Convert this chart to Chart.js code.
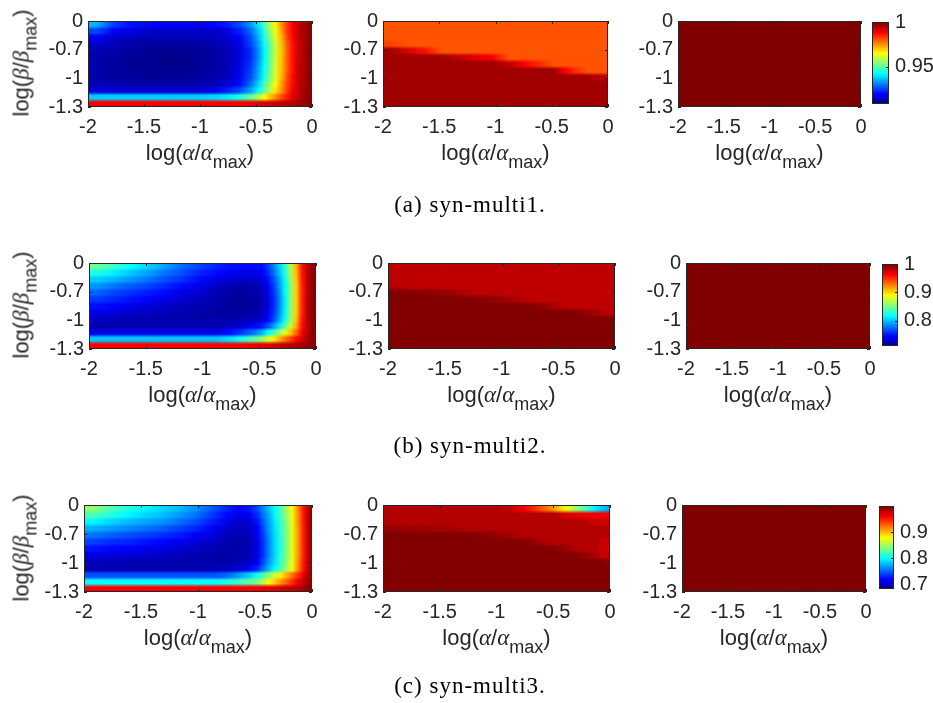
<!DOCTYPE html>
<html>
<head>
<meta charset="utf-8">
<title>syn-multi heatmaps</title>
<script src="https://cdn.jsdelivr.net/npm/chart.js"></script>
<style>
  html, body { margin:0; padding:0; background:#ffffff; }
  #fig { position:relative; width:933px; height:703px; overflow:hidden; background:#fff; }
  #fig canvas { position:absolute; }
  .axt { position:absolute; font-family:"Liberation Sans", Arial, sans-serif; font-size:22px; line-height:26px; color:#262626; white-space:nowrap; }
  .axt .g { font-family:"Liberation Serif","DejaVu Serif",serif; font-style:italic; font-size:23px; }
  .axt .s { font-size:18px; position:relative; top:8px; }
  .cap { position:absolute; font-family:"Liberation Serif","DejaVu Serif",serif; font-size:23px; line-height:28px; color:#000; white-space:nowrap; letter-spacing:1px; transform:translateX(-50%); }
</style>
</head>
<body>
<div id="fig"></div>
<script>
// ---------------- data ----------------
const xEdges = [-2,-1.85,-1.7,-1.55,-1.4,-1.25,-1.1,-0.95,-0.8,-0.7,-0.6,-0.5,-0.45,-0.4,-0.35,-0.3,-0.25,-0.2,-0.15,-0.1,-0.05,0];
const xTicks = [-2,-1.5,-1,-0.5,0];
const xTickLabels = ['-2','-1.5','-1','-0.5','0'];
const yTickLabels = ['-1.3','-1','-0.7','0'];   // bottom -> top
const rangeA = [0.908, 1.0];
const rangeB = [0.711, 1.0];
const rangeC = [0.682, 1.0];
const cbTicksA = [0.95, 1];     const cbLabelsA = ['0.95','1'];
const cbTicksB = [0.8, 0.9, 1]; const cbLabelsB = ['0.8','0.9','1'];
const cbTicksC = [0.7, 0.8, 0.9]; const cbLabelsC = ['0.7','0.8','0.9'];
const captions = ['(a) syn-multi1.','(b) syn-multi2.','(c) syn-multi3.'];

// matrices: rows listed top (0) -> bottom (-1.3), columns follow xEdges
const heatA1 = [
[0.936,0.925,0.921,0.920,0.919,0.919,0.919,0.920,0.922,0.926,0.933,0.941,0.949,0.959,0.967,0.975,0.983,0.989,0.994,0.996,0.999],
[0.926,0.919,0.917,0.915,0.915,0.915,0.915,0.915,0.917,0.922,0.929,0.938,0.947,0.956,0.965,0.974,0.983,0.989,0.994,0.996,0.999],
[0.919,0.915,0.914,0.913,0.913,0.913,0.913,0.914,0.915,0.919,0.926,0.936,0.945,0.954,0.963,0.972,0.982,0.988,0.993,0.996,0.999],
[0.915,0.913,0.912,0.911,0.911,0.911,0.911,0.912,0.914,0.917,0.925,0.934,0.943,0.952,0.961,0.971,0.980,0.987,0.993,0.996,0.999],
[0.913,0.912,0.911,0.910,0.910,0.910,0.910,0.911,0.913,0.916,0.923,0.933,0.942,0.951,0.961,0.970,0.980,0.987,0.993,0.996,0.999],
[0.912,0.911,0.910,0.910,0.909,0.909,0.910,0.911,0.913,0.916,0.923,0.933,0.942,0.952,0.961,0.971,0.980,0.987,0.993,0.996,0.999],
[0.912,0.911,0.910,0.910,0.909,0.909,0.910,0.911,0.913,0.917,0.924,0.934,0.943,0.952,0.962,0.971,0.980,0.987,0.993,0.996,0.999],
[0.912,0.911,0.910,0.910,0.910,0.910,0.910,0.911,0.913,0.917,0.925,0.935,0.944,0.953,0.962,0.971,0.980,0.987,0.993,0.996,0.999],
[0.912,0.911,0.911,0.910,0.910,0.910,0.911,0.912,0.914,0.918,0.926,0.936,0.945,0.954,0.963,0.972,0.981,0.988,0.993,0.996,0.999],
[0.913,0.912,0.912,0.911,0.911,0.911,0.912,0.913,0.915,0.920,0.929,0.939,0.948,0.957,0.965,0.974,0.982,0.988,0.993,0.996,0.999],
[0.917,0.916,0.916,0.916,0.916,0.916,0.916,0.917,0.922,0.926,0.934,0.943,0.951,0.960,0.968,0.975,0.983,0.989,0.994,0.996,0.999],
[0.938,0.938,0.938,0.938,0.938,0.938,0.938,0.939,0.941,0.945,0.951,0.959,0.965,0.971,0.976,0.982,0.986,0.991,0.994,0.997,0.999],
[0.989,0.989,0.989,0.989,0.989,0.989,0.989,0.989,0.989,0.989,0.990,0.991,0.992,0.993,0.994,0.994,0.995,0.996,0.997,0.998,0.999]
];
const heatA2 = [
[0.981,0.981,0.981,0.981,0.981,0.981,0.981,0.981,0.981,0.981,0.981,0.981,0.981,0.981,0.981,0.981,0.981,0.981,0.981,0.981,0.981],
[0.981,0.981,0.981,0.981,0.981,0.981,0.981,0.981,0.981,0.981,0.981,0.981,0.981,0.981,0.981,0.981,0.981,0.981,0.981,0.981,0.981],
[0.981,0.981,0.981,0.981,0.981,0.981,0.981,0.981,0.981,0.981,0.981,0.981,0.981,0.981,0.981,0.981,0.981,0.981,0.981,0.981,0.981],
[0.983,0.981,0.981,0.981,0.981,0.981,0.981,0.981,0.981,0.981,0.981,0.981,0.981,0.981,0.981,0.981,0.981,0.981,0.981,0.981,0.981],
[0.997,0.992,0.987,0.981,0.981,0.981,0.981,0.981,0.981,0.981,0.981,0.981,0.981,0.981,0.981,0.981,0.981,0.981,0.981,0.981,0.981],
[0.997,0.997,0.997,0.997,0.994,0.991,0.989,0.981,0.981,0.981,0.981,0.981,0.981,0.981,0.981,0.981,0.981,0.981,0.981,0.981,0.981],
[0.997,0.997,0.997,0.997,0.997,0.997,0.997,0.994,0.989,0.986,0.983,0.981,0.981,0.981,0.981,0.981,0.981,0.981,0.981,0.981,0.981],
[0.997,0.997,0.997,0.997,0.997,0.997,0.997,0.997,0.997,0.997,0.997,0.997,0.992,0.989,0.986,0.984,0.983,0.981,0.981,0.981,0.981],
[0.997,0.997,0.997,0.997,0.997,0.997,0.997,0.997,0.997,0.997,0.997,0.997,0.997,0.997,0.997,0.997,0.997,0.997,0.995,0.995,0.994],
[0.997,0.997,0.997,0.997,0.997,0.997,0.997,0.997,0.997,0.997,0.997,0.997,0.997,0.997,0.997,0.997,0.997,0.997,0.997,0.997,0.997],
[0.997,0.997,0.997,0.997,0.997,0.997,0.997,0.997,0.997,0.997,0.997,0.997,0.997,0.997,0.997,0.997,0.997,0.997,0.997,0.997,0.997],
[0.997,0.997,0.997,0.997,0.997,0.997,0.997,0.997,0.997,0.997,0.997,0.997,0.997,0.997,0.997,0.997,0.997,0.997,0.997,0.997,0.997],
[0.997,0.997,0.997,0.997,0.997,0.997,0.997,0.997,0.997,0.997,0.997,0.997,0.997,0.997,0.997,0.997,0.997,0.997,0.997,0.997,0.997]
];
const heatA3 = [
[1,1,1,1,1,1,1,1,1,1,1,1,1,1,1,1,1,1,1,1,1],
[1,1,1,1,1,1,1,1,1,1,1,1,1,1,1,1,1,1,1,1,1],
[1,1,1,1,1,1,1,1,1,1,1,1,1,1,1,1,1,1,1,1,1],
[1,1,1,1,1,1,1,1,1,1,1,1,1,1,1,1,1,1,1,1,1],
[1,1,1,1,1,1,1,1,1,1,1,1,1,1,1,1,1,1,1,1,1],
[1,1,1,1,1,1,1,1,1,1,1,1,1,1,1,1,1,1,1,1,1],
[1,1,1,1,1,1,1,1,1,1,1,1,1,1,1,1,1,1,1,1,1],
[1,1,1,1,1,1,1,1,1,1,1,1,1,1,1,1,1,1,1,1,1],
[1,1,1,1,1,1,1,1,1,1,1,1,1,1,1,1,1,1,1,1,1],
[1,1,1,1,1,1,1,1,1,1,1,1,1,1,1,1,1,1,1,1,1],
[1,1,1,1,1,1,1,1,1,1,1,1,1,1,1,1,1,1,1,1,1],
[1,1,1,1,1,1,1,1,1,1,1,1,1,1,1,1,1,1,1,1,1],
[1,1,1,1,1,1,1,1,1,1,1,1,1,1,1,1,1,1,1,1,1]
];
const heatB1 = [
[0.850,0.835,0.821,0.806,0.792,0.777,0.766,0.757,0.751,0.749,0.749,0.751,0.763,0.783,0.806,0.830,0.870,0.913,0.960,0.983,0.997],
[0.827,0.815,0.803,0.792,0.780,0.769,0.757,0.749,0.743,0.740,0.740,0.746,0.757,0.777,0.801,0.827,0.867,0.910,0.957,0.983,0.997],
[0.806,0.798,0.789,0.780,0.769,0.760,0.749,0.740,0.734,0.731,0.731,0.737,0.749,0.769,0.792,0.821,0.861,0.908,0.957,0.983,0.997],
[0.789,0.780,0.772,0.766,0.757,0.749,0.740,0.731,0.725,0.723,0.725,0.731,0.743,0.763,0.789,0.818,0.858,0.905,0.954,0.983,0.997],
[0.775,0.766,0.760,0.754,0.749,0.740,0.734,0.725,0.720,0.720,0.723,0.728,0.740,0.760,0.786,0.818,0.856,0.905,0.954,0.983,0.997],
[0.763,0.757,0.751,0.746,0.740,0.734,0.728,0.723,0.720,0.717,0.720,0.725,0.737,0.757,0.783,0.815,0.856,0.905,0.954,0.983,0.997],
[0.751,0.746,0.740,0.737,0.731,0.728,0.725,0.723,0.720,0.717,0.720,0.725,0.737,0.757,0.783,0.815,0.856,0.905,0.954,0.983,0.997],
[0.740,0.737,0.734,0.731,0.728,0.725,0.723,0.720,0.720,0.720,0.723,0.728,0.740,0.760,0.786,0.818,0.858,0.905,0.954,0.983,0.997],
[0.731,0.728,0.725,0.723,0.723,0.723,0.723,0.723,0.723,0.725,0.728,0.734,0.746,0.766,0.792,0.821,0.861,0.908,0.957,0.983,0.997],
[0.725,0.725,0.725,0.725,0.725,0.725,0.725,0.725,0.731,0.737,0.746,0.754,0.769,0.789,0.812,0.841,0.876,0.916,0.960,0.983,0.997],
[0.740,0.740,0.740,0.740,0.740,0.740,0.740,0.740,0.751,0.763,0.780,0.798,0.818,0.838,0.861,0.884,0.908,0.934,0.965,0.986,0.997],
[0.803,0.803,0.803,0.803,0.803,0.803,0.803,0.803,0.812,0.827,0.844,0.861,0.879,0.896,0.913,0.931,0.945,0.960,0.974,0.988,0.997],
[0.965,0.965,0.965,0.965,0.965,0.965,0.965,0.965,0.965,0.965,0.968,0.971,0.974,0.977,0.980,0.983,0.986,0.988,0.991,0.994,0.997]
];
const heatB2 = [
[0.982,0.982,0.982,0.982,0.982,0.982,0.982,0.982,0.982,0.982,0.982,0.982,0.982,0.982,0.982,0.982,0.982,0.982,0.982,0.982,0.982],
[0.982,0.982,0.982,0.982,0.982,0.982,0.982,0.982,0.982,0.982,0.982,0.982,0.982,0.982,0.982,0.982,0.982,0.982,0.982,0.982,0.982],
[0.982,0.982,0.982,0.982,0.982,0.982,0.982,0.982,0.982,0.982,0.982,0.982,0.982,0.982,0.982,0.982,0.982,0.982,0.982,0.982,0.982],
[0.985,0.982,0.982,0.982,0.982,0.982,0.982,0.982,0.982,0.982,0.982,0.982,0.982,0.982,0.982,0.982,0.982,0.982,0.982,0.982,0.982],
[0.999,0.999,0.996,0.993,0.987,0.982,0.982,0.982,0.982,0.982,0.982,0.982,0.982,0.982,0.982,0.982,0.982,0.982,0.982,0.982,0.982],
[0.999,0.999,0.999,0.999,0.999,0.999,0.994,0.987,0.982,0.982,0.982,0.982,0.982,0.982,0.982,0.982,0.982,0.982,0.982,0.982,0.982],
[0.999,0.999,0.999,0.999,0.999,0.999,0.999,0.999,0.999,0.994,0.989,0.985,0.984,0.982,0.982,0.982,0.982,0.982,0.982,0.982,0.982],
[0.999,0.999,0.999,0.999,0.999,0.999,0.999,0.999,0.999,0.999,0.999,0.999,0.999,0.999,0.997,0.995,0.992,0.991,0.987,0.985,0.982],
[0.999,0.999,0.999,0.999,0.999,0.999,0.999,0.999,0.999,0.999,0.999,0.999,0.999,0.999,0.999,0.999,0.999,0.999,0.999,0.999,0.999],
[0.999,0.999,0.999,0.999,0.999,0.999,0.999,0.999,0.999,0.999,0.999,0.999,0.999,0.999,0.999,0.999,0.999,0.999,0.999,0.999,0.999],
[0.999,0.999,0.999,0.999,0.999,0.999,0.999,0.999,0.999,0.999,0.999,0.999,0.999,0.999,0.999,0.999,0.999,0.999,0.999,0.999,0.999],
[0.999,0.999,0.999,0.999,0.999,0.999,0.999,0.999,0.999,0.999,0.999,0.999,0.999,0.999,0.999,0.999,0.999,0.999,0.999,0.999,0.999],
[0.999,0.999,0.999,0.999,0.999,0.999,0.999,0.999,0.999,0.999,0.999,0.999,0.999,0.999,0.999,0.999,0.999,0.999,0.999,0.999,0.999]
];
const heatB3 = [
[1,1,1,1,1,1,1,1,1,1,1,1,1,1,1,1,1,1,1,1,1],
[1,1,1,1,1,1,1,1,1,1,1,1,1,1,1,1,1,1,1,1,1],
[1,1,1,1,1,1,1,1,1,1,1,1,1,1,1,1,1,1,1,1,1],
[1,1,1,1,1,1,1,1,1,1,1,1,1,1,1,1,1,1,1,1,1],
[1,1,1,1,1,1,1,1,1,1,1,1,1,1,1,1,1,1,1,1,1],
[1,1,1,1,1,1,1,1,1,1,1,1,1,1,1,1,1,1,1,1,1],
[1,1,1,1,1,1,1,1,1,1,1,1,1,1,1,1,1,1,1,1,1],
[1,1,1,1,1,1,1,1,1,1,1,1,1,1,1,1,1,1,1,1,1],
[1,1,1,1,1,1,1,1,1,1,1,1,1,1,1,1,1,1,1,1,1],
[1,1,1,1,1,1,1,1,1,1,1,1,1,1,1,1,1,1,1,1,1],
[1,1,1,1,1,1,1,1,1,1,1,1,1,1,1,1,1,1,1,1,1],
[1,1,1,1,1,1,1,1,1,1,1,1,1,1,1,1,1,1,1,1,1],
[1,1,1,1,1,1,1,1,1,1,1,1,1,1,1,1,1,1,1,1,1]
];
const heatC1 = [
[0.847,0.828,0.812,0.800,0.790,0.781,0.768,0.749,0.733,0.723,0.727,0.746,0.765,0.784,0.803,0.825,0.851,0.879,0.917,0.955,0.987],
[0.825,0.812,0.800,0.790,0.781,0.771,0.758,0.739,0.723,0.714,0.717,0.736,0.758,0.777,0.800,0.822,0.847,0.876,0.914,0.955,0.987],
[0.800,0.790,0.781,0.774,0.768,0.758,0.746,0.730,0.714,0.704,0.707,0.727,0.752,0.774,0.796,0.819,0.844,0.873,0.914,0.955,0.987],
[0.777,0.771,0.765,0.758,0.752,0.742,0.733,0.720,0.707,0.701,0.704,0.720,0.746,0.771,0.793,0.816,0.841,0.873,0.911,0.952,0.987],
[0.758,0.752,0.746,0.742,0.736,0.730,0.720,0.711,0.701,0.698,0.701,0.717,0.742,0.768,0.790,0.816,0.841,0.873,0.911,0.952,0.987],
[0.742,0.736,0.733,0.727,0.723,0.717,0.711,0.704,0.698,0.695,0.698,0.714,0.739,0.765,0.790,0.812,0.841,0.873,0.911,0.952,0.987],
[0.727,0.723,0.720,0.717,0.714,0.707,0.704,0.698,0.695,0.695,0.698,0.714,0.739,0.765,0.790,0.812,0.841,0.873,0.911,0.952,0.987],
[0.714,0.711,0.711,0.707,0.704,0.701,0.698,0.695,0.695,0.695,0.698,0.714,0.739,0.765,0.790,0.816,0.841,0.873,0.911,0.952,0.987],
[0.701,0.701,0.698,0.698,0.698,0.695,0.695,0.695,0.695,0.698,0.704,0.720,0.746,0.771,0.793,0.819,0.844,0.876,0.914,0.955,0.987],
[0.698,0.698,0.698,0.698,0.698,0.698,0.698,0.698,0.701,0.707,0.717,0.733,0.758,0.781,0.803,0.825,0.851,0.879,0.917,0.955,0.987],
[0.746,0.746,0.746,0.746,0.746,0.746,0.746,0.746,0.752,0.768,0.787,0.809,0.828,0.847,0.866,0.886,0.905,0.924,0.946,0.968,0.990],
[0.803,0.803,0.803,0.803,0.803,0.803,0.803,0.803,0.809,0.819,0.828,0.841,0.860,0.879,0.898,0.914,0.930,0.946,0.962,0.978,0.994],
[0.962,0.962,0.962,0.962,0.962,0.962,0.962,0.962,0.962,0.962,0.963,0.965,0.967,0.968,0.971,0.975,0.978,0.981,0.984,0.990,0.997]
];
const heatC2 = [
[0.984,0.984,0.984,0.984,0.984,0.984,0.984,0.978,0.962,0.943,0.924,0.905,0.889,0.873,0.857,0.841,0.825,0.809,0.796,0.784,0.777],
[0.984,0.984,0.984,0.984,0.984,0.984,0.984,0.984,0.984,0.984,0.984,0.984,0.975,0.972,0.970,0.968,0.966,0.965,0.965,0.965,0.965],
[0.984,0.984,0.984,0.984,0.984,0.984,0.984,0.984,0.984,0.984,0.984,0.984,0.984,0.984,0.984,0.984,0.984,0.978,0.975,0.975,0.975],
[0.993,0.992,0.990,0.989,0.986,0.984,0.984,0.984,0.984,0.984,0.984,0.984,0.984,0.984,0.984,0.984,0.984,0.984,0.984,0.984,0.984],
[0.999,0.999,0.999,0.999,0.999,0.998,0.995,0.989,0.984,0.984,0.984,0.984,0.984,0.984,0.984,0.984,0.984,0.984,0.984,0.984,0.984],
[0.999,0.999,0.999,0.999,0.999,0.999,0.999,0.999,0.998,0.992,0.986,0.984,0.984,0.984,0.984,0.984,0.984,0.984,0.984,0.978,0.978],
[0.999,0.999,0.999,0.999,0.999,0.999,0.999,0.999,0.999,0.999,0.999,0.996,0.993,0.990,0.986,0.984,0.984,0.984,0.984,0.976,0.976],
[0.999,0.999,0.999,0.999,0.999,0.999,0.999,0.999,0.999,0.999,0.999,0.999,0.999,0.999,0.999,0.998,0.993,0.990,0.987,0.978,0.978],
[0.999,0.999,0.999,0.999,0.999,0.999,0.999,0.999,0.999,0.999,0.999,0.999,0.999,0.999,0.999,0.999,0.999,0.999,0.999,0.999,0.995],
[0.999,0.999,0.999,0.999,0.999,0.999,0.999,0.999,0.999,0.999,0.999,0.999,0.999,0.999,0.999,0.999,0.999,0.999,0.999,0.999,0.999],
[0.999,0.999,0.999,0.999,0.999,0.999,0.999,0.999,0.999,0.999,0.999,0.999,0.999,0.999,0.999,0.999,0.999,0.999,0.999,0.999,0.999],
[0.999,0.999,0.999,0.999,0.999,0.999,0.999,0.999,0.999,0.999,0.999,0.999,0.999,0.999,0.999,0.999,0.999,0.999,0.999,0.999,0.999],
[0.999,0.999,0.999,0.999,0.999,0.999,0.999,0.999,0.999,0.999,0.999,0.999,0.999,0.999,0.999,0.999,0.999,0.999,0.999,0.999,0.999]
];
const heatC3 = [
[1,1,1,1,1,1,1,1,1,1,1,1,1,1,1,1,1,1,1,1,1],
[1,1,1,1,1,1,1,1,1,1,1,1,1,1,1,1,1,1,1,1,1],
[1,1,1,1,1,1,1,1,1,1,1,1,1,1,1,1,1,1,1,1,1],
[1,1,1,1,1,1,1,1,1,1,1,1,1,1,1,1,1,1,1,1,1],
[1,1,1,1,1,1,1,1,1,1,1,1,1,1,1,1,1,1,1,1,1],
[1,1,1,1,1,1,1,1,1,1,1,1,1,1,1,1,1,1,1,1,1],
[1,1,1,1,1,1,1,1,1,1,1,1,1,1,1,1,1,1,1,1,1],
[1,1,1,1,1,1,1,1,1,1,1,1,1,1,1,1,1,1,1,1,1],
[1,1,1,1,1,1,1,1,1,1,1,1,1,1,1,1,1,1,1,1,1],
[1,1,1,1,1,1,1,1,1,1,1,1,1,1,1,1,1,1,1,1,1],
[1,1,1,1,1,1,1,1,1,1,1,1,1,1,1,1,1,1,1,1,1],
[1,1,1,1,1,1,1,1,1,1,1,1,1,1,1,1,1,1,1,1,1],
[1,1,1,1,1,1,1,1,1,1,1,1,1,1,1,1,1,1,1,1,1]
];

// ---------------- layout (pixel boxes of plot areas) ----------------
const figRows = [
  { top:19,  h:88, panels:[[88,312],[383,608],[678,861]], cb:[872,889], capY:205,
    mats:[heatA1,heatA2,heatA3], range:rangeA, cbt:cbTicksA, cbl:cbLabelsA },
  { top:261, h:88, panels:[[89,316],[388,615],[686,870]], cb:[882,898], capY:446,
    mats:[heatB1,heatB2,heatB3], range:rangeB, cbt:cbTicksB, cbl:cbLabelsB },
  { top:503, h:89, panels:[[84,312],[383,610],[682,866]], cb:[879,894], capY:686,
    mats:[heatC1,heatC2,heatC3], range:rangeC, cbt:cbTicksC, cbl:cbLabelsC }
];

const fig = document.getElementById('fig');
const FONT = "'Liberation Sans', Arial, sans-serif";
const TICKSIZE = 20;
const INK = '#262626';
const VRAMP = 3.5;   // px over which vertically adjacent cells blend

function cl(v){ return Math.max(0, Math.min(1, v)); }
function jetRGB(t){
  t = cl(t);
  return [cl(Math.min(4*t-1.5, -4*t+4.5)) * 255,
          cl(Math.min(4*t-0.5, -4*t+3.5)) * 255,
          cl(Math.min(4*t+0.5, -4*t+2.5)) * 255];
}
function css(c){ return 'rgb(' + Math.round(c[0]) + ',' + Math.round(c[1]) + ',' + Math.round(c[2]) + ')'; }
function jet(t){ return css(jetRGB(t)); }

const boxPlugin = {
  id: 'axbox',
  afterDatasetsDraw(chart, args, opts) {
    const {ctx, chartArea:a, scales} = chart;
    ctx.save();
    ctx.strokeStyle = INK; ctx.lineWidth = 1;
    ctx.beginPath();
    const TL = 3;
    if (opts.xt) {
      scales.x.ticks.forEach(t => {
        const p = Math.round(scales.x.getPixelForValue(t.value)) + 0.5;
        ctx.moveTo(p, a.bottom); ctx.lineTo(p, a.bottom - TL);
        ctx.moveTo(p, a.top); ctx.lineTo(p, a.top + TL);
      });
    }
    scales.y.ticks.forEach(t => {
      const p = Math.round(scales.y.getPixelForValue(t.value)) + 0.5;
      if (opts.yl) { ctx.moveTo(a.left, p); ctx.lineTo(a.left + TL, p); }
      ctx.moveTo(a.right, p); ctx.lineTo(a.right - TL, p);
    });
    ctx.stroke();
    ctx.strokeRect(a.left + 0.5, a.top + 0.5, a.right - a.left - 1, a.bottom - a.top - 1);
    ctx.restore();
  }
};

function makeCanvas(left, top, w, h) {
  const cv = document.createElement('canvas');
  cv.width = w; cv.height = h;
  cv.style.left = left + 'px'; cv.style.top = top + 'px';
  cv.style.width = w + 'px'; cv.style.height = h + 'px';
  fig.appendChild(cv);
  return cv;
}

// Fill of one cell: its own colour, blended towards the neighbouring cells'
// colours near its edges (the soft look of the resampled MATLAB image).
function cellFill(matrix, range) {
  const nR = matrix.length, nC = matrix[0].length, span = yTickLabels.length - 1;
  const rgb = matrix.map(row => row.map(v => jetRGB((v - range[0]) / (range[1] - range[0]))));
  return (ctx) => {
    const i = ctx.dataIndex, c = ctx.datasetIndex;
    const chart = ctx.chart;
    if (!chart.chartArea || !chart.scales.x || !chart.scales.y) return css(rgb[i][c]);
    const xs = chart.scales.x, ys = chart.scales.y;
    const xc = k => (xs.getPixelForValue(xEdges[k]) + xs.getPixelForValue(xEdges[k + 1])) / 2;
    const yc = k => ys.getPixelForValue((nR - 1 - k + 0.5) * span / nR);
    const x0 = xs.getPixelForValue(xEdges[c]), x1 = xs.getPixelForValue(xEdges[c + 1]);
    const rowH = Math.abs(yc(0) - yc(1)) || 1;
    const cy = yc(i), y0 = cy - rowH / 2, y1 = cy + rowH / 2;
    const flat = Math.max(0, rowH / 2 - VRAMP / 2);
    const cx = xc(c);
    const cxL = c > 0 ? xc(c - 1) : null, cxR = c < nC - 1 ? xc(c + 1) : null;
    const ox = Math.floor(x0) - 2, oy = Math.floor(y0) - 2;
    const W = Math.ceil(x1) + 2 - ox, H = Math.ceil(y1) + 2 - oy;
    const off = document.createElement('canvas');
    off.width = W; off.height = H;
    const octx = off.getContext('2d');
    const img = octx.createImageData(W, H);
    for (let py = 0; py < H; py++) {
      const yy = oy + py + 0.5;
      const dist = Math.abs(yy - cy);
      let ni = i, ty = 0;
      const s = Math.min(1, Math.max(0, (dist - flat) / VRAMP));
      if (yy < cy && i > 0) { ni = i - 1; ty = s; }
      else if (yy > cy && i < nR - 1) { ni = i + 1; ty = s; }
      for (let px = 0; px < W; px++) {
        const xx = ox + px + 0.5;
        let nc = c, tx = 0;
        if (xx < cx && cxL !== null) { nc = c - 1; tx = Math.min(1, (cx - xx) / (cx - cxL)); }
        else if (xx > cx && cxR !== null) { nc = c + 1; tx = Math.min(1, (xx - cx) / (cxR - cx)); }
        const a = rgb[i][c], b = rgb[i][nc], d = rgb[ni][c], e = rgb[ni][nc];
        const w0 = (1 - tx) * (1 - ty), w1 = tx * (1 - ty), w2 = (1 - tx) * ty, w3 = tx * ty;
        const o = (py * W + px) * 4;
        img.data[o]     = a[0] * w0 + b[0] * w1 + d[0] * w2 + e[0] * w3;
        img.data[o + 1] = a[1] * w0 + b[1] * w1 + d[1] * w2 + e[1] * w3;
        img.data[o + 2] = a[2] * w0 + b[2] * w1 + d[2] * w2 + e[2] * w3;
        img.data[o + 3] = 255;
      }
    }
    octx.putImageData(img, 0, 0);
    const pat = chart.ctx.createPattern(off, 'no-repeat');
    pat.setTransform(new DOMMatrix([1, 0, 0, 1, ox, oy]));
    return pat;
  };
}

function heatPanel(l, r, top, h, matrix, range) {
  const WY = 56, HX = 36, PT = 15, PR = 16;
  const cv = makeCanvas(l - WY, top - PT, (r - l) + WY + PR, h + PT + HX);
  const nR = matrix.length, span = yTickLabels.length - 1;
  const datasets = [];
  const fillFn = cellFill(matrix, range);
  for (let c = 0; c < xEdges.length - 1; c++) {
    datasets.push({
      data: matrix.map((row, i) => ({ y: (nR - 1 - i + 0.5) * span / nR, x: [xEdges[c], xEdges[c + 1]] })),
      backgroundColor: fillFn,
      borderWidth: 0, grouped: false, barPercentage: 1, categoryPercentage: 1,
      inflateAmount: 0.6, clip: 0
    });
  }
  new Chart(cv, {
    type: 'bar',
    data: { datasets },
    plugins: [boxPlugin],
    options: {
      responsive: false, animation: false, events: [], indexAxis: 'y',
      layout: { padding: { top: PT, right: PR, left: 0, bottom: 0 } },
      plugins: { legend: { display: false }, tooltip: { enabled: false }, axbox: { xt: true, yl: true } },
      scales: {
        x: { type: 'linear', position: 'bottom', min: -2, max: 0, offset: false,
             grid: { display: false, drawTicks: false }, border: { display: false },
             afterBuildTicks: s => { s.ticks = xTicks.map(v => ({ value: v })); },
             afterFit: s => { s.height = HX; },
             ticks: { padding: 8, maxRotation: 0, autoSkip: false, color: INK,
                      font: { family: FONT, size: TICKSIZE },
                      callback: v => xTickLabels[xTicks.indexOf(v)] } },
        y: { type: 'linear', position: 'left', min: 0, max: span, offset: false,
             grid: { display: false, drawTicks: false }, border: { display: false },
             afterBuildTicks: s => { s.ticks = yTickLabels.map((t, i) => ({ value: i })); },
             afterFit: s => { s.width = WY; },
             ticks: { padding: 5, autoSkip: false, color: INK,
                      font: { family: FONT, size: TICKSIZE },
                      callback: v => yTickLabels[v] } }
      }
    }
  });
}

function colorbar(l, r, top, h, range, ticks, labels) {
  const PT = 15, PB = 15, WR = 50;
  const cv = makeCanvas(l, top - PT, (r - l) + WR, h + PT + PB);
  const n = 64, d = (range[1] - range[0]) / n;
  const data = [], colors = [];
  for (let i = 0; i < n; i++) {
    data.push({ y: range[0] + (i + 0.5) * d, x: [0, 1] });
    colors.push(jet((i + 0.5) / n));
  }
  new Chart(cv, {
    type: 'bar',
    data: { datasets: [{ data, backgroundColor: colors, borderWidth: 0, grouped: false,
                         barPercentage: 1, categoryPercentage: 1, inflateAmount: 0.6, clip: 0 }] },
    plugins: [boxPlugin],
    options: {
      responsive: false, animation: false, events: [], indexAxis: 'y',
      layout: { padding: { top: PT, bottom: PB, left: 0, right: 0 } },
      plugins: { legend: { display: false }, tooltip: { enabled: false }, axbox: { xt: false, yl: false } },
      scales: {
        x: { type: 'linear', display: false, min: 0, max: 1, offset: false },
        y: { type: 'linear', position: 'right', min: range[0], max: range[1], offset: false,
             grid: { display: false, drawTicks: false }, border: { display: false },
             afterBuildTicks: s => { s.ticks = ticks.map(v => ({ value: v })); },
             afterFit: s => { s.width = WR; },
             ticks: { padding: 6, autoSkip: false, color: INK,
                      font: { family: FONT, size: TICKSIZE },
                      callback: v => labels[ticks.indexOf(v)] } }
      }
    }
  });
}

function addDiv(cls, html, styles) {
  const d = document.createElement('div');
  d.className = cls; d.innerHTML = html;
  Object.assign(d.style, styles);
  fig.appendChild(d);
  return d;
}

const xTitle = 'log(<span class="g">α</span>/<span class="g">α</span><span class="s">max</span>)';
const yTitle = 'log(<span class="g">β</span>/<span class="g">β</span><span class="s">max</span>)';

figRows.forEach((row, ri) => {
  row.panels.forEach((p, pi) => {
    heatPanel(p[0], p[1], row.top, row.h, row.mats[pi], row.range);
    addDiv('axt', xTitle, { left: ((p[0] + p[1]) / 2) + 'px', top: (row.top + row.h + 33) + 'px',
                            transform: 'translateX(-50%)' });
  });
  addDiv('axt', yTitle, { left: '22px', top: (row.top + row.h / 2) + 'px',
                          transform: 'translate(-50%,-50%) rotate(-90deg)' });
  colorbar(row.cb[0], row.cb[1], row.top, row.h, row.range, row.cbt, row.cbl);
  addDiv('cap', captions[ri], { left: '470px', top: (row.capY - 14) + 'px' });
});
</script>
</body>
</html>
